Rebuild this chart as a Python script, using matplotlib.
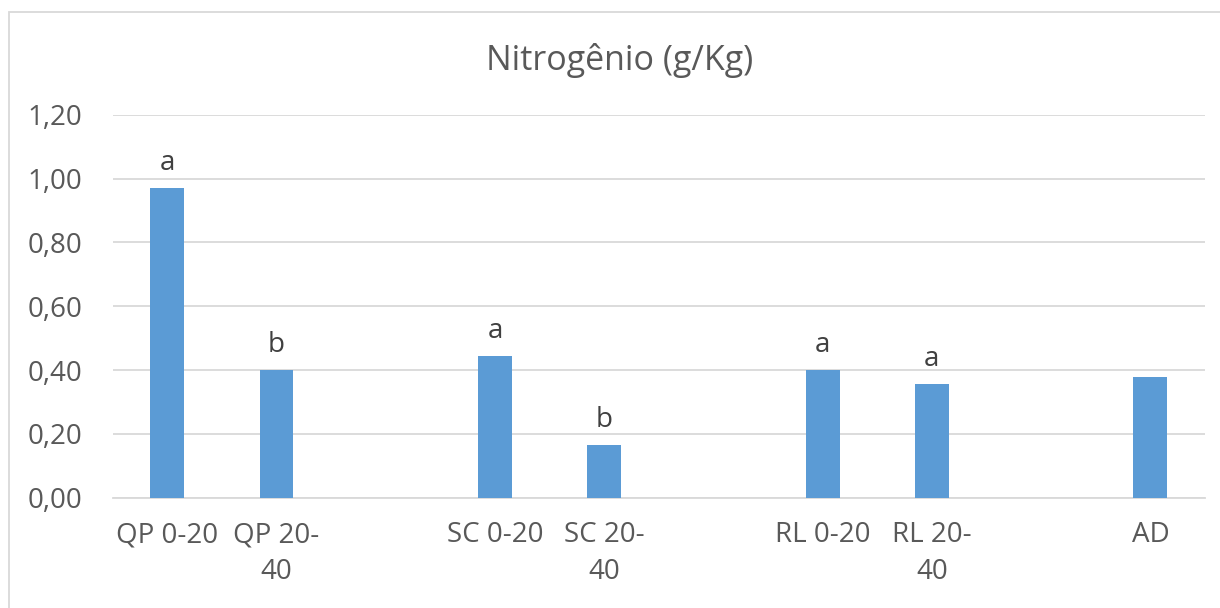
import numpy as np
import matplotlib
matplotlib.use("Agg")
import matplotlib.pyplot as plt
from matplotlib.patches import Rectangle

# categories (empty slots are gaps in the original sheet)
categories = ["QP 0-20", "QP 20-\n40", "", "SC 0-20", "SC 20-\n40", "",
              "RL 0-20", "RL 20-\n40", "", "AD"]
nitrogen = [0.97, 0.40, np.nan, 0.445, 0.165, np.nan, 0.40, 0.355, np.nan, 0.377]
letters = ["a", "b", "", "a", "b", "", "a", "a", "", ""]
yticks = [0.0, 0.2, 0.4, 0.6, 0.8, 1.0, 1.2]

plt.rcParams['font.family'] = ['Open Sans', 'DejaVu Sans']
TXT = "#595959"
BAR = "#5B9BD5"
GRID = "#D9D9D9"

fig = plt.figure(figsize=(12.2, 6.08), dpi=100)
ax = fig.add_axes([112.7/1220, (608-497.7)/608, (1205-112.7)/1220, (497.7-114.7)/608])

x = np.arange(len(categories))
vals = np.array(nitrogen, dtype=float)
ax.bar(x, np.nan_to_num(vals), width=0.31, color=BAR, zorder=3)

# significance letters above the bars
for xi, v, lab in zip(x, vals, letters):
    if lab and not np.isnan(v):
        ax.annotate(lab, (xi, v), xytext=(0, 8), textcoords="offset points",
                    ha="center", va="bottom", fontsize=20, color="#404040")

ax.set_xlim(-0.5, len(categories) - 0.5)
ax.set_ylim(0, 1.2)
ax.set_yticks(yticks)
ax.set_yticklabels([f"{t:.2f}".replace(".", ",") for t in yticks])
ax.set_xticks(x)
ax.set_xticklabels(categories, linespacing=1.4)
ax.tick_params(axis="both", length=0, labelsize=20, colors=TXT)
ax.tick_params(axis="x", pad=17)
ax.tick_params(axis="y", pad=22)
ax.yaxis.grid(True, color=GRID, linewidth=1.3, zorder=0)
for s in ["top", "right", "left"]:
    ax.spines[s].set_visible(False)
ax.spines["bottom"].set_color(GRID)
ax.spines["bottom"].set_linewidth(1.3)

fig.text(620/1220, 1 - 60/608, "Nitrogênio (g/Kg)", ha="center", va="center",
         fontsize=24.5, color=TXT)

# chart border like the spreadsheet frame
fig.patches.append(Rectangle((9/1220, -0.05), 1.1, 1 - 12/608 + 0.05,
                             transform=fig.transFigure, fill=False,
                             edgecolor=GRID, linewidth=1.3))

fig.savefig("out.png", dpi=100)
